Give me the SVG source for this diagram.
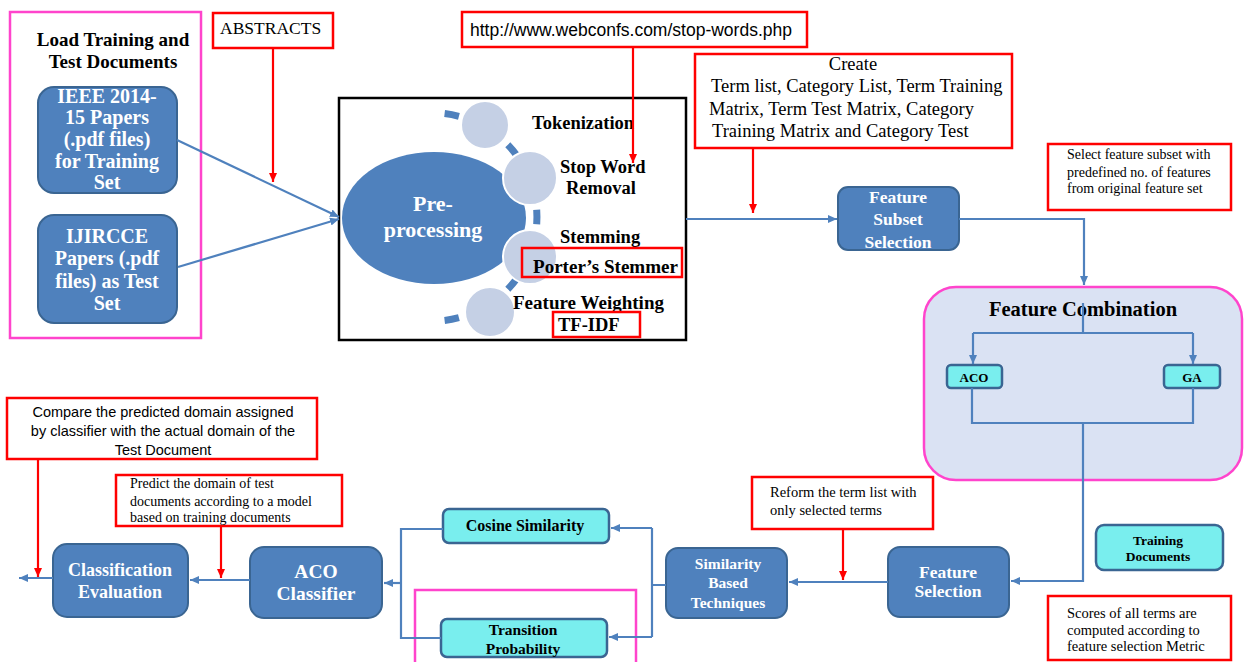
<svg xmlns="http://www.w3.org/2000/svg" width="1245" height="662" viewBox="0 0 1245 662">
<defs>
<marker id="ab" markerUnits="userSpaceOnUse" markerWidth="10" markerHeight="10" refX="9" refY="5" orient="auto"><path d="M0,1 L9,5 L0,9 z" fill="#4f81bd"/></marker>
<marker id="ar" markerUnits="userSpaceOnUse" markerWidth="10" markerHeight="10" refX="9" refY="5" orient="auto"><path d="M0,1 L9,5 L0,9 z" fill="#ff0000"/></marker>
<style>
.blue{fill:#4f81bd;stroke:#3a6592;stroke-width:2}
.cyan{fill:#79eeee;stroke:#3a6592;stroke-width:2.5}
.red{fill:#ffffff;stroke:#ff0000;stroke-width:2.5}
.pink{fill:none;stroke:#ff44cc;stroke-width:2.5}
.con{fill:none;stroke:#4f81bd;stroke-width:2.2}
.rcon{fill:none;stroke:#ff0000;stroke-width:2.2}
.wt{font-family:"Liberation Serif",serif;font-weight:bold;fill:#ffffff;text-anchor:middle}
.bt{font-family:"Liberation Serif",serif;font-weight:bold;fill:#000000}
.st{font-family:"Liberation Serif",serif;fill:#000000}
.sans{font-family:"Liberation Sans",Arial,sans-serif;fill:#000000}
.circ{fill:#c5d0e5;stroke:#ffffff;stroke-width:2}
</style>
</defs>
<rect x="0" y="0" width="1245" height="662" fill="#ffffff"/>

<g id="load-group">
<rect x="10" y="12" width="191" height="326" class="pink"/>
<text class="bt" x="113" y="46" font-size="19" text-anchor="middle">Load Training and</text>
<text class="bt" x="113" y="68" font-size="19" text-anchor="middle">Test Documents</text>
</g>
<g id="ieee">
<rect x="38" y="87" width="139" height="106" rx="16" class="blue"/>
<text class="wt" font-size="20"><tspan x="107" y="103">IEEE  2014-</tspan><tspan x="107" y="124">15 Papers</tspan><tspan x="107" y="146">(.pdf files)</tspan><tspan x="107" y="168">for Training</tspan><tspan x="107" y="189">Set</tspan></text>
</g>
<g id="ijircce">
<rect x="38" y="215" width="139" height="108" rx="16" class="blue"/>
<text class="wt" font-size="20"><tspan x="107" y="243">IJIRCCE</tspan><tspan x="107" y="265">Papers (.pdf</tspan><tspan x="107" y="288">files) as Test</tspan><tspan x="107" y="310">Set</tspan></text>
</g>
<g id="abstracts">
<rect x="213" y="13" width="120" height="35" class="red"/>
<text class="st" x="220" y="34" font-size="17.5">ABSTRACTS</text>
</g>
<g id="url">
<rect x="462" y="12" width="345" height="35" class="red"/>
<text class="sans" x="470" y="36" font-size="17.5">http://www.webconfs.com/stop-words.php</text>
</g>

<g id="preprocessing">
<rect x="339" y="98" width="347" height="242" fill="#ffffff" stroke="#000000" stroke-width="2.5"/>
<ellipse cx="434" cy="218" rx="92" ry="66" fill="#4f81bd"/>
<g stroke="#4f81bd" stroke-width="7" fill="none">
<path d="M444.6,113.6 A104,104 0 0 1 458.9,116.3"/>
<path d="M507.8,144.8 A104,104 0 0 1 517.1,155.9"/>
<path d="M536.7,209.7 A104,104 0 0 1 536.7,224.3"/>
<path d="M517.1,278.1 A104,104 0 0 1 507.8,289.2"/>
<path d="M458.9,317.7 A104,104 0 0 1 444.6,320.4"/>
</g>
<circle cx="485" cy="125" r="24" class="circ"/>
<circle cx="530" cy="178" r="27" class="circ"/>
<circle cx="530" cy="257" r="27" class="circ"/>
<circle cx="490" cy="312" r="25" class="circ"/>
<text class="wt" font-size="22"><tspan x="433" y="211">Pre-</tspan><tspan x="433" y="237">processing</tspan></text>
<text class="bt" x="532" y="129" font-size="18.5">Tokenization</text>
<text class="bt" x="560" y="173" font-size="18.5">Stop Word</text>
<text class="bt" x="566" y="194" font-size="18.5">Removal</text>
<text class="bt" x="560" y="243" font-size="18.5">Stemming</text>
<rect x="522" y="248" width="160" height="29" fill="none" stroke="#ff0000" stroke-width="2.5"/>
<text class="bt" x="533" y="273" font-size="18.5" textLength="145" lengthAdjust="spacingAndGlyphs">Porter’s Stemmer</text>
<text class="bt" x="513" y="309" font-size="18.5" textLength="151" lengthAdjust="spacingAndGlyphs">Feature Weighting</text>
<rect x="553" y="312" width="87" height="25" fill="none" stroke="#ff0000" stroke-width="2.5"/>
<text class="bt" x="558" y="331" font-size="18.5">TF-IDF</text>
</g>

<g id="create">
<rect x="695" y="54" width="317" height="94" class="red"/>
<text class="st" font-size="18.5"><tspan x="853" y="70" text-anchor="middle">Create</tspan><tspan x="711" y="92">Term list, Category List, Term Training</tspan><tspan x="709" y="115">Matrix, Term Test Matrix, Category</tspan><tspan x="712" y="137">Training Matrix and Category Test</tspan></text>
</g>
<g id="feature-subset">
<rect x="838" y="187" width="121" height="63" rx="10" class="blue"/>
<text class="wt" font-size="17.5"><tspan x="898" y="203">Feature</tspan><tspan x="898" y="225">Subset</tspan><tspan x="898" y="248">Selection</tspan></text>
</g>
<g id="select-note">
<rect x="1048" y="144" width="183" height="66" class="red"/>
<text class="st" font-size="14"><tspan x="1067" y="159">Select feature  subset with</tspan><tspan x="1067" y="177">predefined no.  of features</tspan><tspan x="1067" y="193">from original feature  set</tspan></text>
</g>
<g id="feature-combination">
<rect x="924" y="287" width="318" height="193" rx="32" fill="#dae2f3" stroke="#ff44cc" stroke-width="2.5"/>
<text class="bt" x="1083" y="316" font-size="20.5" text-anchor="middle">Feature Combination</text>
</g>
<g id="aco-fc">
<rect x="947" y="365" width="55" height="23" rx="4" class="cyan"/>
<text class="bt" x="974" y="382" font-size="13" text-anchor="middle">ACO</text>
</g>
<g id="ga-fc">
<rect x="1164" y="365" width="56" height="23" rx="4" class="cyan"/>
<text class="bt" x="1192" y="382" font-size="13" text-anchor="middle">GA</text>
</g>
<g id="training-docs">
<rect x="1096" y="525" width="127" height="45" rx="8" class="cyan"/>
<text class="bt" font-size="13.5" text-anchor="middle"><tspan x="1158" y="545">Training</tspan><tspan x="1158" y="561">Documents</tspan></text>
</g>
<g id="scores-note">
<rect x="1048" y="596" width="183" height="64" class="red"/>
<text class="st" font-size="14.5"><tspan x="1067" y="618">Scores of all terms are</tspan><tspan x="1067" y="635">computed according  to</tspan><tspan x="1067" y="651">feature selection Metric</tspan></text>
</g>
<g id="feature-selection">
<rect x="888" y="547" width="121" height="70" rx="12" class="blue"/>
<text class="wt" font-size="17.5"><tspan x="948" y="578">Feature</tspan><tspan x="948" y="597">Selection</tspan></text>
</g>
<g id="reform-note">
<rect x="752" y="477" width="181" height="52" class="red"/>
<text class="st" font-size="14.5"><tspan x="770" y="497">Reform the term  list with</tspan><tspan x="770" y="515">only selected terms</tspan></text>
</g>
<g id="similarity">
<rect x="666" y="548" width="121" height="70" rx="12" class="blue"/>
<text class="wt" font-size="15.5"><tspan x="728" y="569">Similarity</tspan><tspan x="728" y="588">Based</tspan><tspan x="728" y="608">Techniques</tspan></text>
</g>
<g id="cosine">
<rect x="443" y="509" width="166" height="34" rx="6" class="cyan"/>
<text class="bt" x="525" y="531" font-size="16" text-anchor="middle">Cosine Similarity</text>
</g>
<g id="transition-frame">
<rect x="415" y="590" width="221" height="80" class="pink"/>
</g>
<g id="transition">
<rect x="441" y="619" width="166" height="38" rx="6" class="cyan"/>
<text class="bt" font-size="15.5" text-anchor="middle"><tspan x="523" y="635">Transition</tspan><tspan x="523" y="654">Probability</tspan></text>
</g>
<g id="aco-classifier">
<rect x="250" y="547" width="132" height="71" rx="14" class="blue"/>
<text class="wt" font-size="19.5"><tspan x="316" y="578">ACO</tspan><tspan x="316" y="600">Classifier</tspan></text>
</g>
<g id="classification-eval">
<rect x="53" y="544" width="135" height="73" rx="14" class="blue"/>
<text class="wt" font-size="18"><tspan x="120" y="576">Classification</tspan><tspan x="120" y="598">Evaluation</tspan></text>
</g>
<g id="predict-note">
<rect x="116" y="475" width="226" height="51" class="red"/>
<text class="st" font-size="14"><tspan x="130" y="488">Predict the domain of test</tspan><tspan x="130" y="506">documents according to a model</tspan><tspan x="130" y="522">based on training  documents</tspan></text>
</g>
<g id="compare-note">
<rect x="7" y="398" width="310" height="61" class="red"/>
<text class="sans" font-size="14.5" text-anchor="middle"><tspan x="163" y="417">Compare the predicted domain assigned</tspan><tspan x="163" y="436">by classifier with the actual domain of the</tspan><tspan x="163" y="455">Test Document</tspan></text>
</g>

<g id="connectors">
<path class="con" d="M177,140 L339,217" marker-end="url(#ab)"/>
<path class="con" d="M178,267 L339,219" marker-end="url(#ab)"/>
<path class="con" d="M686,219 L837,219" marker-end="url(#ab)"/>
<path class="con" d="M959,219 L1084,219 L1084,285" marker-end="url(#ab)"/>
<path class="con" d="M1083,303 L1083,333 M973,333 L1193,333"/>
<path class="con" d="M973,333 L973,364" marker-end="url(#ab)"/>
<path class="con" d="M1193,333 L1193,364" marker-end="url(#ab)"/>
<path class="con" d="M972,388 L972,423 L1193,423 L1193,388"/>
<path class="con" d="M1083,423 L1083,581 L1011,581" marker-end="url(#ab)"/>
<path class="con" d="M888,582 L789,582" marker-end="url(#ab)"/>
<path class="con" d="M666,585 L652,585 M652,528 L652,637"/>
<path class="con" d="M652,528 L611,528" marker-end="url(#ab)"/>
<path class="con" d="M652,637 L609,637" marker-end="url(#ab)"/>
<path class="con" d="M443,529 L401,529 L401,638 L441,638"/>
<path class="con" d="M401,583 L384,583" marker-end="url(#ab)"/>
<path class="con" d="M250,580 L190,580" marker-end="url(#ab)"/>
<path class="con" d="M53,578 L19,578" marker-end="url(#ab)"/>
<path class="rcon" d="M273,48 L273,182" marker-end="url(#ar)"/>
<path class="rcon" d="M633,47 L633,163" marker-end="url(#ar)"/>
<path class="rcon" d="M753,148 L753,213" marker-end="url(#ar)"/>
<path class="rcon" d="M843,529 L843,580" marker-end="url(#ar)"/>
<path class="rcon" d="M38,459 L38,577" marker-end="url(#ar)"/>
<path class="rcon" d="M221,526 L221,578" marker-end="url(#ar)"/>
</g>
</svg>
